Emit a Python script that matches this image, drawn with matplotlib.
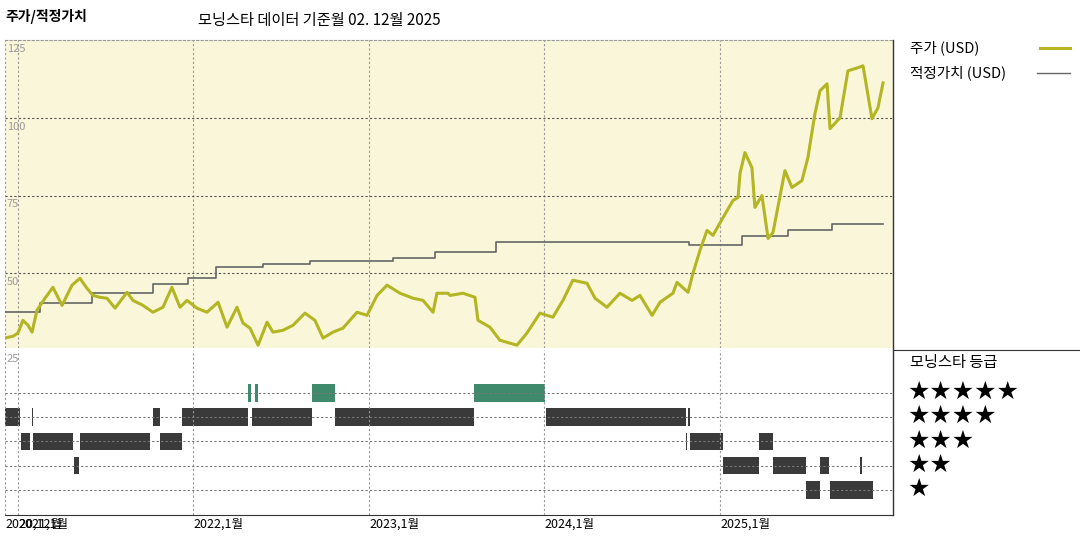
import matplotlib
matplotlib.use("Agg")
import matplotlib.pyplot as plt

plt.rcParams['font.family'] = ['Noto Sans CJK KR', 'DejaVu Sans']

price_t = [2020.926,2020.972,2021.000,2021.028,2021.057,2021.080,2021.108,2021.154,2021.199,2021.251,
           2021.279,2021.308,2021.353,2021.393,2021.427,2021.467,2021.507,2021.553,2021.621,2021.655,
           2021.712,2021.769,2021.826,2021.877,2021.923,2021.963,2022.020,2022.077,2022.140,2022.191,
           2022.248,2022.282,2022.322,2022.368,2022.419,2022.453,2022.510,2022.567,2022.635,2022.692,
           2022.738,2022.795,2022.852,2022.932,2022.989,2023.046,2023.103,2023.177,2023.251,2023.308,
           2023.365,2023.387,2023.450,2023.462,2023.536,2023.604,2023.621,2023.689,2023.746,2023.843,
           2023.900,2023.974,2024.048,2024.105,2024.162,2024.242,2024.288,2024.356,2024.430,2024.499,
           2024.544,2024.613,2024.658,2024.732,2024.755,2024.818,2024.846,2024.886,2024.926,2024.960,
           2025.017,2025.074,2025.103,2025.114,2025.142,2025.182,2025.199,2025.239,2025.274,2025.302,
           2025.370,2025.410,2025.467,2025.501,2025.541,2025.570,2025.610,2025.627,2025.684,2025.729,
           2025.781,2025.815,2025.866,2025.900,2025.929]
price_v = [29.2,29.8,30.8,34.9,33.3,31.1,38.1,42.0,45.5,39.7,
           42.9,46.2,48.4,45.2,42.9,42.3,42.0,38.8,43.9,41.3,
           39.7,37.5,39.1,45.5,39.1,41.3,38.8,37.5,40.7,32.7,
           39.1,34.0,32.4,26.9,34.3,31.1,31.7,33.3,37.2,34.9,
           29.2,31.1,32.4,37.5,36.5,42.9,46.2,43.6,42.0,41.3,
           37.5,43.6,43.6,42.9,43.6,42.3,34.9,32.7,28.5,26.9,
           30.8,37.2,35.9,41.3,47.8,46.8,42.0,39.1,43.6,41.3,
           42.9,36.5,40.7,43.6,47.1,43.9,50.0,57.4,63.8,62.2,
           67.9,73.4,74.4,82.1,88.8,84.0,71.2,75.0,61.2,63.1,
           83.0,77.6,79.8,87.2,101.3,108.7,110.9,96.5,100.0,115.1,
           116.0,116.7,99.7,103.2,111.2]

fv_start = [2020.926,2021.125,2021.422,2021.769,2021.969,2022.128,2022.396,2022.664,2023.137,2023.376,
            2023.724,2024.823,2025.125,2025.387,2025.638]
fv_end = 2025.929
fv_v = [37.5,40.4,43.6,46.5,48.4,52.0,53.0,54.0,54.8,57.0,60.0,59.0,62.0,63.8,66.0]

rating_5 = [(2022.311,2022.328),(2022.350,2022.368),(2022.675,2022.806),(2023.598,2024.003)]
rating_4 = [(2020.926,2021.011),(2021.080,2021.085),(2021.769,2021.809),(2021.934,2022.311),
            (2022.333,2022.675),(2022.806,2023.598),(2024.009,2024.806),(2024.818,2024.829)]
rating_3 = [(2021.017,2021.068),(2021.085,2021.313),(2021.353,2021.752),(2021.809,2021.934),
            (2024.806,2024.812),(2024.829,2025.017),(2025.222,2025.302)]
rating_2 = [(2021.319,2021.348),(2025.017,2025.222),(2025.302,2025.490),(2025.570,2025.621),
            (2025.798,2025.809)]
rating_1 = [(2025.490,2025.570),(2025.627,2025.872)]

xtick_pos = [2020.926,2021.0,2022.0,2023.0,2024.0,2025.0]
xtick_lab = ['2020,12월','2021,1월','2022,1월','2023,1월','2024,1월','2025,1월']
ytick_v = [50,75,100,125]

W,H = 1080,540
fig = plt.figure(figsize=(10.8,5.4), dpi=100)
L, R = 5/W, 893/W
xlim = (2020.926, 2020.926 + (893-5)/175.5)

ax = fig.add_axes([L, 1-348/H, R-L, (348-40)/H])
ax.set_facecolor('#faf6da')
ax.set_xlim(*xlim); ax.set_ylim(26,125)
for t in xtick_pos[1:]:
    ax.axvline(t, color='#999', ls=(0,(2,2)), lw=0.8)
for v in ytick_v[:-1]:
    ax.axhline(v, color='#555', ls=(0,(2,2)), lw=0.8)
ax.axvline(xlim[0], color='#999', ls=(0,(2,2)), lw=0.8)
fvx, fvy = [], []
for i,s in enumerate(fv_start):
    e = fv_start[i+1] if i+1 < len(fv_start) else fv_end
    fvx += [s,e]; fvy += [fv_v[i],fv_v[i]]
ax.plot(fvx, fvy, color='#666', lw=1.2)
ax.plot(price_t, price_v, color='#b3b622', lw=2.2)
for v in ytick_v:
    ax.text(xlim[0]+0.01, v-1.2, str(v), color='#999', fontsize=8, va='top', ha='left')
for s in ['left','bottom','right']:
    ax.spines[s].set_visible(False)
ax.spines['top'].set_color('#999'); ax.spines['top'].set_linestyle((0,(2,2)))
ax.set_xticks([]); ax.set_yticks([])

bx = fig.add_axes([L, 1-515/H, R-L, (515-350)/H])
bx.set_xlim(*xlim); bx.set_ylim(-0.03, 6.77)
for t in [xlim[0]]+xtick_pos[1:]:
    bx.axvline(t, color='#999', ls=(0,(2,2)), lw=0.8)
for k in range(1,6):
    bx.axhline(k, color='#777', ls=(0,(2,2)), lw=0.8)
for k, segs, col in [(5,rating_5,'#3f8a6c'),(4,rating_4,'#3a3a3a'),(3,rating_3,'#3a3a3a'),
                     (2,rating_2,'#3a3a3a'),(1,rating_1,'#3a3a3a')]:
    bx.broken_barh([(s, max(e-s,0.006)) for s,e in segs], (k-0.36, 0.72), facecolor=col)
bx.text(xlim[0]+0.01, 6.6, '25', color='#999', fontsize=8, va='top')
for s in ['left','top','right']:
    bx.spines[s].set_visible(False)
bx.spines['bottom'].set_color('#333')
bx.set_yticks([])
bx.set_xticks(xtick_pos)
bx.set_xticklabels(xtick_lab, fontsize=9, ha='left')
bx.tick_params(axis='x', length=0, pad=2)

fig.add_artist(plt.Line2D([R,R],[1-40/H,1-515/H], color='#333', lw=1))
fig.add_artist(plt.Line2D([R,1],[1-350/H,1-350/H], color='#333', lw=0.8))

fig.text(5/W, 1-17/H, '주가/적정가치', fontsize=10, fontweight='bold', va='center')
fig.text(198/W, 1-20/H, '모닝스타 데이터 기준월 02. 12월 2025', fontsize=11, va='center')
fig.text(910/W, 1-48/H, '주가 (USD)', fontsize=10.5, va='center')
fig.add_artist(plt.Line2D([1040/W,1070/W],[1-48/H,1-48/H], color='#b3b622', lw=2.2))
fig.text(910/W, 1-73/H, '적정가치 (USD)', fontsize=10.5, va='center')
fig.add_artist(plt.Line2D([1037/W,1070/W],[1-73/H,1-73/H], color='#666', lw=1))
fig.text(910/W, 1-362/H, '모닝스타 등급', fontsize=11, va='center')
for i,n in enumerate([5,4,3,2,1]):
    fig.text(907/W, 1-(392+i*24.3)/H, '★'*n, fontsize=18, va='center', family=['DejaVu Sans'])

fig.savefig('out.png', dpi=100)
